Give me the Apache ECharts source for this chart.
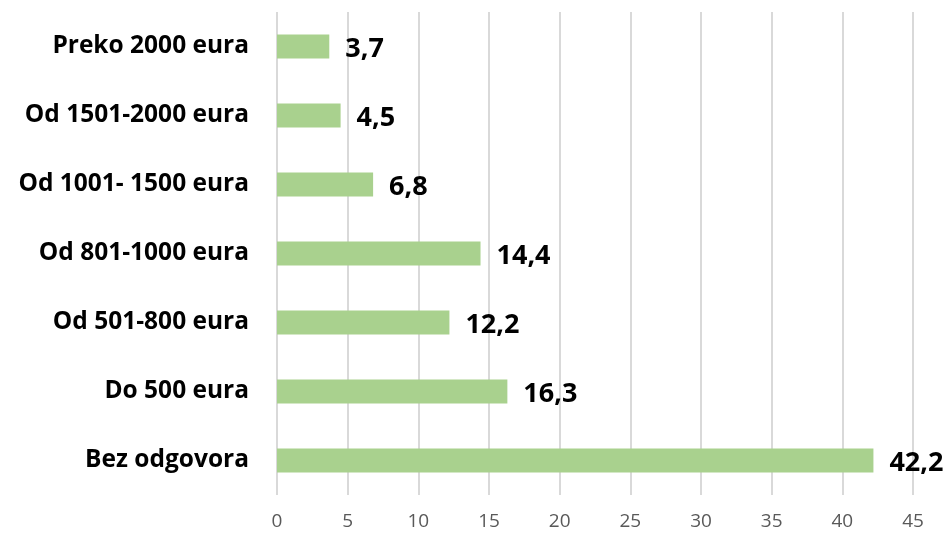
<!DOCTYPE html>
<html>
<head>
<meta charset="utf-8">
<script src="https://cdn.jsdelivr.net/npm/echarts@6/dist/echarts.min.js"></script>
<style>
  body { margin: 0; background: #fff; }
  #chart { width: 950px; height: 540px; }
</style>
</head>
<body>
<div id="chart"></div>
<script>
  // kategorije odozdo prema gore
  const categories = ['Bez odgovora', 'Do 500 eura', 'Od 501-800 eura', 'Od 801-1000 eura',
    'Od 1001- 1500 eura', 'Od 1501-2000 eura', 'Preko 2000 eura']
  const values = [42.2, 16.3, 12.2, 14.4, 6.8, 4.5, 3.7]
  const xTicks = [0, 5, 10, 15, 20, 25, 30, 35, 40, 45]

  const myChart = echarts.init(document.getElementById('chart'))
  myChart.setOption({
    animation: false,
    grid: { left: 277, right: 37, top: 12, bottom: 45, containLabel: false },
    xAxis: {
      type: 'value',
      min: xTicks[0],
      max: xTicks[xTicks.length - 1],
      interval: 5,
      axisLine: { show: false },
      axisTick: { show: false },
      splitLine: { lineStyle: { color: '#d9d9d9', width: 2 } },
      axisLabel: { color: '#595959', fontSize: 19, fontFamily: 'Open Sans', margin: 17 }
    },
    yAxis: {
      type: 'category',
      data: categories,
      axisLine: { show: false },
      axisTick: { show: false },
      axisLabel: { color: '#000', fontSize: 24.5, fontWeight: 'bold', fontFamily: 'Open Sans', margin: 28 }
    },
    series: [
      {
        type: 'bar',
        data: values,
        barWidth: 24,
        itemStyle: { color: '#a9d18e' },
        label: {
          show: true,
          position: 'right',
          distance: 16,
          offset: [0, 3],
          color: '#000',
          fontSize: 27,
          fontWeight: 'bold',
          fontFamily: 'Open Sans',
          formatter: p => p.value.toFixed(1).replace('.', ',')
        }
      }
    ]
  })
</script>
</body>
</html>
